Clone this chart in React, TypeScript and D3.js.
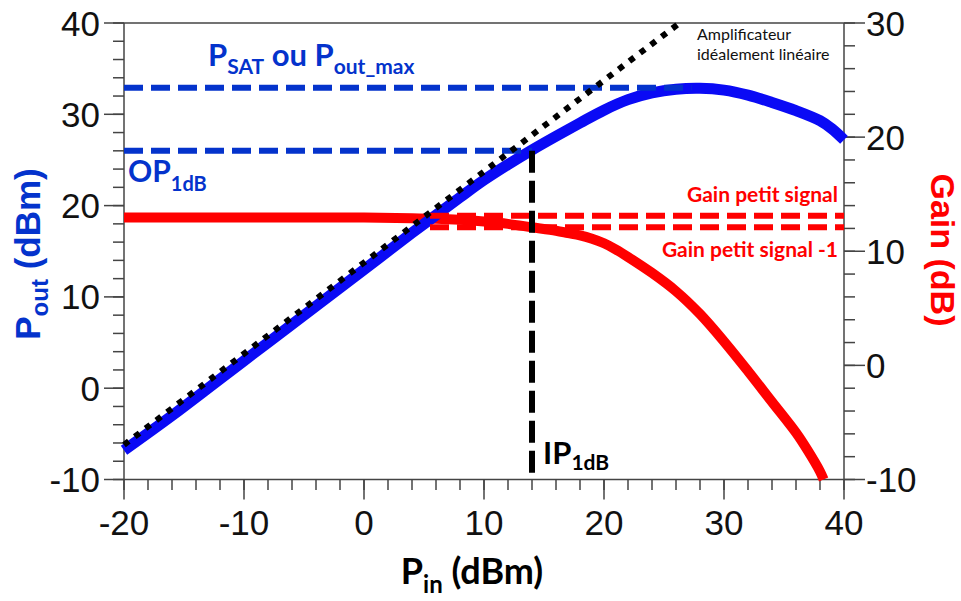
import React from "react";
import * as d3 from "d3";

// ---- data ----
const pinBlue = [-20, -16, -12, -8, -4, 0, 4, 8, 10, 12, 14, 16, 18, 20, 22, 24, 26, 28, 30, 32, 34, 36, 38, 39, 40];
const poutBlue = [-6.8, -3.0, 1.0, 5.0, 9.0, 13.0, 17.0, 20.9, 22.8, 24.5, 26.1, 27.6, 29.05, 30.45, 31.6, 32.35, 32.75, 32.85, 32.65, 32.1, 31.3, 30.4, 29.3, 28.4, 27.2];

const pinGain = [-20, -10, 0, 4, 6, 8, 10, 12, 14, 16, 17, 18, 19, 20, 21, 22, 24, 26, 28, 30, 32, 34, 36, 37, 38, 38.3];
const gainVals = [12.95, 12.95, 12.95, 12.9, 12.85, 12.75, 12.6, 12.4, 12.1, 11.8, 11.6, 11.4, 11.1, 10.7, 10.15, 9.5, 8.1, 6.5, 4.5, 2.1, -0.5, -3.2, -5.9, -7.5, -9.3, -10];

const idealPin = [-20, 26.3];
const idealPout = [-6.2, 40];

const psat = 32.9;
const psatEndPin = 27.3;
const op1dB = 26;
const ip1dB = 14;
const gainSmall = 13.1;
const gainSmallMinus1 = 12.1;
const gainRefStartPin = 5.5;

const xTicks = [-20, -10, 0, 10, 20, 30, 40];
const yLeftTicks = [-10, 0, 10, 20, 30, 40];
const yRightTicks = [-10, 0, 10, 20, 30];

export default function App() {
  const x = d3.scaleLinear().domain([-20, 40]).range([124, 844]);
  const yL = d3.scaleLinear().domain([-10, 40]).range([479.5, 23]);
  const yR = d3.scaleLinear().domain([-10, 30]).range([479.5, 23]);

  const blueLine = d3
    .line<number>()
    .x((_, i) => x(pinBlue[i]))
    .y((d) => yL(d))
    .curve(d3.curveCatmullRom)(poutBlue) as string;
  const redLine = d3
    .line<number>()
    .x((_, i) => x(pinGain[i]))
    .y((d) => yR(d))
    .curve(d3.curveCatmullRom)(gainVals) as string;
  const idealLine = d3
    .line<number>()
    .x((_, i) => x(idealPin[i]))
    .y((d) => yL(d))(idealPout) as string;

  const minorX = d3.range(-20, 40.01, 2);
  const minorL = d3.range(-10, 40.01, 2);
  const minorR = d3.range(-10, 30.01, 2);

  const axisColor = "#444";
  const blueDash = "#0433cc";
  const tickFont = "'Liberation Sans', Arial, sans-serif";
  const annFont = "Lato, 'Open Sans', sans-serif";

  return (
    <div style={{ position: "absolute", left: 0, top: 0 }}>
      <svg width={961} height={601} style={{ display: "block", background: "#fff" }}>
        {/* frame: top line */}
        <line x1={124} x2={844} y1={23} y2={23} stroke={axisColor} strokeWidth={1.5} />
        {/* left axis */}
        <line x1={124} x2={124} y1={23} y2={479.5} stroke={axisColor} strokeWidth={1.5} />
        {minorL.map((v) => (
          <line key={"ml" + v} x1={113} x2={124} y1={yL(v)} y2={yL(v)} stroke={axisColor} strokeWidth={1.5} />
        ))}
        {yLeftTicks.map((v) => (
          <g key={"tl" + v}>
            <line x1={104} x2={124} y1={yL(v)} y2={yL(v)} stroke={axisColor} strokeWidth={1.5} />
            <text x={100} y={yL(v) + 12.5} textAnchor="end" fontFamily={tickFont} fontSize={35} fill="#111">
              {v}
            </text>
          </g>
        ))}
        {/* right axis */}
        <line x1={844} x2={844} y1={23} y2={479.5} stroke={axisColor} strokeWidth={1.5} />
        {minorR.map((v) => (
          <line key={"mr" + v} x1={844} x2={855} y1={yR(v)} y2={yR(v)} stroke={axisColor} strokeWidth={1.5} />
        ))}
        {yRightTicks.map((v) => (
          <g key={"tr" + v}>
            <line x1={844} x2={865} y1={yR(v)} y2={yR(v)} stroke={axisColor} strokeWidth={1.5} />
            <text x={866} y={yR(v) + 12.5} textAnchor="start" fontFamily={tickFont} fontSize={35} fill="#111">
              {v}
            </text>
          </g>
        ))}
        {/* bottom axis */}
        <line x1={124} x2={844} y1={479.5} y2={479.5} stroke={axisColor} strokeWidth={1.5} />
        {minorX.map((v) => (
          <line key={"mx" + v} x1={x(v)} x2={x(v)} y1={479.5} y2={490} stroke={axisColor} strokeWidth={1.5} />
        ))}
        {xTicks.map((v) => (
          <g key={"tx" + v}>
            <line x1={x(v)} x2={x(v)} y1={479.5} y2={499.5} stroke={axisColor} strokeWidth={1.5} />
            <text x={x(v)} y={535} textAnchor="middle" fontFamily={tickFont} fontSize={35} fill="#111">
              {v}
            </text>
          </g>
        ))}

        {/* curves */}
        <path d={redLine} fill="none" stroke="#ff0000" strokeWidth={10} strokeLinejoin="round" />
        <path d={blueLine} fill="none" stroke="#0a0af5" strokeWidth={11} strokeLinejoin="round" />

        {/* reference dashed lines */}
        <line x1={x(-20)} x2={x(psatEndPin)} y1={yL(psat)} y2={yL(psat)} stroke={blueDash} strokeWidth={6} strokeDasharray="19,8" />
        <line x1={x(-20)} x2={x(ip1dB)} y1={yL(op1dB)} y2={yL(op1dB)} stroke={blueDash} strokeWidth={6} strokeDasharray="19,8" />
        <line x1={x(gainRefStartPin)} x2={844} y1={yR(gainSmall)} y2={yR(gainSmall)} stroke="#ff0000" strokeWidth={6} strokeDasharray="19,8" />
        <line x1={x(gainRefStartPin)} x2={844} y1={yR(gainSmallMinus1)} y2={yR(gainSmallMinus1)} stroke="#ff0000" strokeWidth={6} strokeDasharray="19,8" />
        <path d={idealLine} fill="none" stroke="#000" strokeWidth={6} strokeDasharray="6,7.5" />
        <line x1={x(ip1dB)} x2={x(ip1dB)} y1={yL(op1dB)} y2={479.5} stroke="#000" strokeWidth={6} strokeDasharray="22,8" />

        {/* annotations */}
        <text x={208} y={66} fontFamily={annFont} fontWeight="bold" fontSize={31} fill={blueDash}>
          P<tspan fontSize={21} dy={8}>SAT</tspan>
          <tspan dy={-8}> ou P</tspan>
          <tspan fontSize={21} dy={8}>out_max</tspan>
        </text>
        <text x={128} y={182} fontFamily={annFont} fontWeight="bold" fontSize={30} fill={blueDash}>
          OP<tspan fontSize={20} dy={9}>1dB</tspan>
        </text>
        <text x={838} y={202} textAnchor="end" fontFamily={annFont} fontWeight="bold" fontSize={21} fill="#ff0000">
          Gain petit signal
        </text>
        <text x={838} y={257} textAnchor="end" fontFamily={annFont} fontWeight="bold" fontSize={21} fill="#ff0000">
          Gain petit signal -1
        </text>
        <text x={697} y={40} fontFamily={annFont} fontSize={16} fill="#111">
          Amplificateur
        </text>
        <text x={697} y={60} fontFamily={annFont} fontSize={16} fill="#111">
          idéalement linéaire
        </text>
        <text x={543} y={464} fontFamily={annFont} fontWeight="bold" fontSize={31} fill="#000">
          IP<tspan fontSize={21} dy={6}>1dB</tspan>
        </text>

        {/* axis titles */}
        <text x={472} y={584} textAnchor="middle" fontFamily={annFont} fontWeight="bold" fontSize={36} fill="#000">
          P<tspan fontSize={24} dy={9}>in</tspan>
          <tspan dy={-9}> (dBm)</tspan>
        </text>
        <text
          transform="translate(40,254) rotate(-90)"
          textAnchor="middle"
          fontFamily={tickFont}
          fontWeight="bold"
          fontSize={35}
          fill={blueDash}
        >
          P<tspan fontSize={24} dy={8}>out</tspan>
          <tspan dy={-8}> (dBm)</tspan>
        </text>
        <text
          transform="translate(931,250) rotate(90)"
          textAnchor="middle"
          fontFamily={tickFont}
          fontWeight="bold"
          fontSize={34}
          fill="#ff0000"
        >
          Gain (dB)
        </text>
      </svg>
    </div>
  );
}
